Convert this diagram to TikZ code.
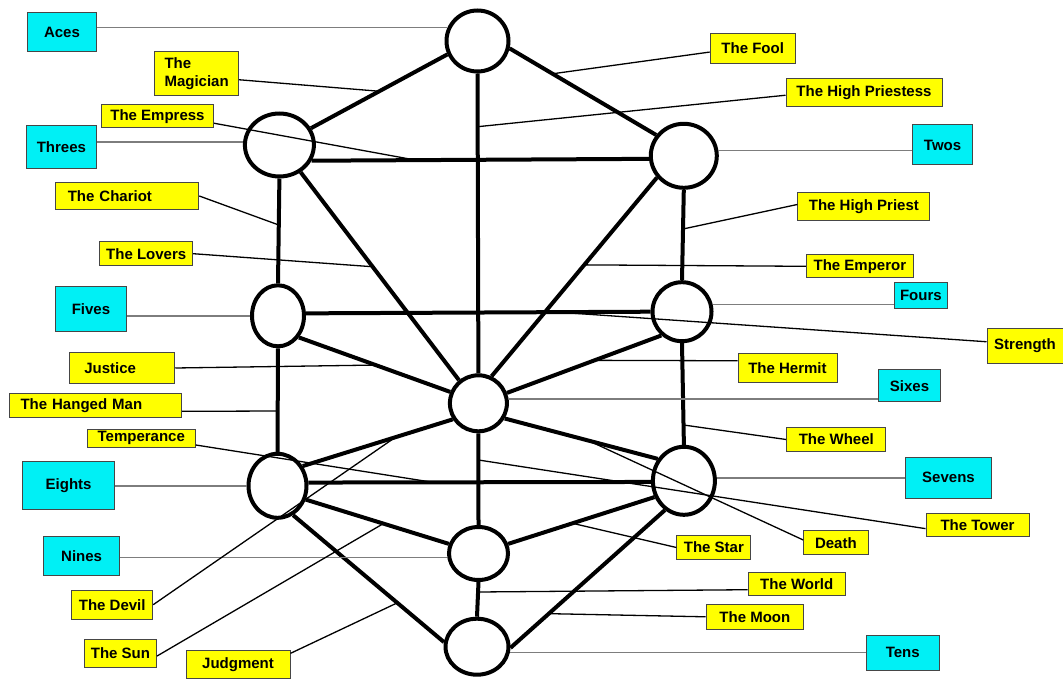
\documentclass[tikz,border=0pt]{standalone}
\usepackage{fontspec}
\setmainfont{Liberation Sans}
\usetikzlibrary{shapes.geometric,calc}
\definecolor{cardyellow}{RGB}{255,255,0}
\definecolor{suitcyan}{RGB}{0,240,245}
\definecolor{boxedge}{RGB}{70,70,70}
\definecolor{suitgray}{RGB}{125,125,125}

\begin{document}
\begin{tikzpicture}
[
    x=1pt, y=-1pt,
    sephira/.style={draw, ellipse, line width=4pt, inner sep=0pt},
    pathline/.style={line width=4pt},
    card/.style={draw=boxedge, fill=cardyellow, line width=1pt, inner sep=1pt, font=\fontsize{15}{18.5}\selectfont\bfseries},
    suit/.style={draw=boxedge, fill=suitcyan, line width=1pt, inner sep=1pt, font=\fontsize{15}{18.5}\selectfont\bfseries},
    cardline/.style={line width=1.3pt},
    suitline/.style={line width=1.5pt, suitgray},
]
\useasboundingbox (0,0) rectangle (1063,679);

% the ten circles
\node [sephira, minimum width=62, minimum height=61] (kether) at (477.5,41) {};
\node [sephira, minimum width=66, minimum height=64] (chokmah) at (683.8,155.8) {};
\node [sephira, minimum width=69, minimum height=63] (binah) at (279.4,145) {};
\node [sephira, minimum width=59, minimum height=59] (chesed) at (682,311.7) {};
\node [sephira, minimum width=52, minimum height=61] (geburah) at (278,315.8) {};
\node [sephira, minimum width=57, minimum height=56] (tiphareth) at (478.4,403.3) {};
\node [sephira, minimum width=58, minimum height=64] (hod) at (277.5,485.8) {};
\node [sephira, minimum width=62, minimum height=68] (netzach) at (683.9,480.8) {};
\node [sephira, minimum width=59, minimum height=53] (yesod) at (478.5,553.5) {};
\node [sephira, minimum width=63, minimum height=56] (malkuth) at (477,646.7) {};

% the 22 paths
\draw [pathline] (kether.-13) -- (chokmah.143);
\draw [pathline] (kether.-156) -- (binah.28);
\draw [pathline] (kether.south) -- (tiphareth.north);
\draw [pathline] (binah.-26) -- (chokmah.185);
\draw [pathline] (binah.south) -- (geburah.north);
\draw [pathline] (chokmah.south) -- (chesed.north);
\draw [pathline] (binah.-52) -- (tiphareth.130);
\draw [pathline] (chokmah.-141) -- (tiphareth.64);
\draw [pathline] (geburah.5) -- (chesed.west);
\draw [pathline] (geburah.-46) -- (tiphareth.158);
\draw [pathline] (chesed.-131) -- (tiphareth.20);
\draw [pathline] (geburah.south) -- (hod.north);
\draw [pathline] (chesed.south) -- (netzach.north);
\draw [pathline] (tiphareth.-148) -- (hod.38);
\draw [pathline] (tiphareth.-30) -- (netzach.140);
\draw [pathline] (hod.6) -- (netzach.182);
\draw [pathline] (hod.-26) -- (yesod.162);
\draw [pathline] (netzach.-151) -- (yesod.18);
\draw [pathline] (hod.-62) -- (malkuth.172);
\draw [pathline] (netzach.-123) -- (malkuth.-2);
\draw [pathline] (tiphareth.south) -- (yesod.north);
\draw [pathline] (yesod.south) -- (malkuth.north);

% suits
\node [suit, minimum width=68.6, minimum height=39] (aces) at (62,32.2) {Aces};
\node [suit, minimum width=70, minimum height=43.3] (threes) at (61.4,146.7) {Threes};
\node [suit, minimum width=60.5, minimum height=40] (twos) at (942.6,145) {Twos};
\node [suit, minimum width=70.3, minimum height=45] (fives) at (91,309.2) {Fives};
\node [suit, minimum width=52.3, minimum height=25.7] (fours) at (920.9,295.5) {Fours};
\node [suit, minimum width=62, minimum height=31.7] (sixes) at (909.5,385.8) {Sixes};
\node [suit, minimum width=91.3, minimum height=48.3] (eights) at (68.6,485.8) {Eights};
\node [suit, minimum width=85.7, minimum height=41] (sevens) at (948.5,477.8) {Sevens};
\node [suit, minimum width=76.7, minimum height=39] (nines) at (81.6,556.2) {Nines};
\node [suit, minimum width=73.3, minimum height=35] (tens) at (902.7,652.5) {Tens};

\draw [suitline] (kether.156) -- (kether.156 -| aces.east);
\draw [suitline] (binah.175) -- (binah.175 -| threes.east);
\draw [suitline] (chokmah.9) -- (chokmah.9 -| twos.west);
\draw [suitline] (geburah.west) -- (geburah.west -| fives.east);
\draw [suitline] (chesed.13) -- (chesed.13 -| fours.west);
\draw [suitline] (tiphareth.8) -- (tiphareth.8 -| sixes.west);
\draw [suitline] (hod.west) -- (hod.west -| eights.east);
\draw [suitline] (netzach.5) -- (netzach.5 -| sevens.west);
\draw [suitline] (yesod.187) -- (yesod.187 -| nines.east);
\draw [suitline] (malkuth.-10) -- (malkuth.-10 -| tens.west);

% trumps
\node [card, minimum width=85, minimum height=30] (fool) at (752.7,48.3) {The Fool};
\node [card, minimum width=83.5, minimum height=44.3, align=left] (magician) at (196.6,73.8) {The\\Magician};
\node [card, minimum width=156, minimum height=28.3] (highpriestess) at (864,92.5) {The High Priestess};
\node [card, minimum width=112.3, minimum height=22.7] (empress) at (157.5,116.3) {The Empress};
\node [card, text width=119, inner xsep=12, minimum height=26.7, align=left] (chariot) at (127.3,196) {The Chariot};
\node [card, minimum width=93, minimum height=24] (lovers) at (146.2,253.7) {The Lovers};
\node [card, minimum width=132, minimum height=28.3] (highpriest) at (863.9,206.8) {The High Priest};
\node [card, minimum width=107, minimum height=22.7] (emperor) at (859.9,266.3) {The Emperor};
\node [card, minimum width=76, minimum height=35] (strength) at (1025,345.8) {Strength};
\node [card, text width=75.5, inner xsep=15, minimum height=30.6, align=left] (justice) at (122,368) {Justice};
\node [card, minimum width=99, minimum height=29] (hermit) at (787.5,367.8) {The Hermit};
\node [card, text width=150, inner xsep=11, minimum height=24, align=left] (hangedman) at (95.5,405.3) {The Hanged Man};
\node [card, minimum width=99.3, minimum height=24.3] (wheel) at (836.3,439.5) {The Wheel};
\node [card, minimum width=108, minimum height=18] (temperance) at (141.3,438.3) {Temperance};
\node [card, minimum width=103, minimum height=23.3] (tower) at (977.5,525) {The Tower};
\node [card, minimum width=64.6, minimum height=24.3] (death) at (835.9,542.8) {Death};
\node [card, minimum width=74, minimum height=23.7] (star) at (713.9,547.5) {The Star};
\node [card, minimum width=97, minimum height=22.7] (world) at (796.7,583.7) {The World};
\node [card, minimum width=97.5, minimum height=25] (moon) at (754.9,616.8) {The Moon};
\node [card, minimum width=81, minimum height=29.3] (devil) at (112.2,604.7) {The Devil};
\node [card, minimum width=72, minimum height=28.3] (sun) at (120.5,653.5) {The Sun};
\node [card, minimum width=104, minimum height=27.7] (judgment) at (238,664.5) {Judgment};

% where each trump meets its path
\coordinate (fool-end) at ($(kether.-13)!(553.8,71.7)!(chokmah.143)$);
\coordinate (magician-end) at ($(kether.-156)!(378.6,90)!(binah.28)$);
\coordinate (highpriestess-end) at ($(kether.south)!(477.5,126.7)!(tiphareth.north)$);
\coordinate (empress-end) at ($(binah.-26)!(415.8,158)!(chokmah.185)$);
\coordinate (chariot-end) at ($(binah.south)!(278.2,225)!(geburah.north)$);
\coordinate (lovers-end) at ($(binah.-52)!(371.9,267.3)!(tiphareth.130)$);
\coordinate (highpriest-end) at ($(chokmah.south)!(683,229)!(chesed.north)$);
\coordinate (emperor-end) at ($(chokmah.-141)!(584.4,265)!(tiphareth.64)$);
\coordinate (strength-end) at ($(geburah.5)!(557.5,314)!(chesed.west)$);
\coordinate (justice-end) at ($(geburah.-46)!(375.3,366)!(tiphareth.158)$);
\coordinate (hermit-end) at ($(chesed.-131)!(594.6,360.7)!(tiphareth.20)$);
\coordinate (hangedman-end) at ($(geburah.south)!(278,411)!(hod.north)$);
\coordinate (wheel-end) at ($(chesed.south)!(683,425)!(netzach.north)$);
\coordinate (temperance-end) at ($(hod.6)!(433,481)!(netzach.182)$);
\coordinate (tower-end) at ($(tiphareth.south)!(478,460)!(yesod.north)$);
\coordinate (death-end) at ($(tiphareth.-30)!(587,445)!(netzach.140)$);
\coordinate (devil-end) at ($(tiphareth.-148)!(397,442)!(hod.38)$);
\coordinate (sun-end) at ($(hod.-26)!(382,528)!(yesod.162)$);
\coordinate (star-end) at ($(netzach.-151)!(573,525)!(yesod.18)$);
\coordinate (world-end) at ($(yesod.south)!(478,592)!(malkuth.north)$);
\coordinate (moon-end) at ($(netzach.-123)!(550,615)!(malkuth.-2)$);
\coordinate (judgment-end) at ($(hod.-62)!(395.5,605)!(malkuth.172)$);

\draw [cardline] (fool.185) -- (fool-end);
\draw [cardline] (magician.-8) -- (magician-end);
\draw [cardline] (highpriestess.182) -- (highpriestess-end);
\draw [cardline] (empress.-7) -- (empress-end);
\draw [cardline] (chariot.east) -- (chariot-end);
\draw [cardline] (lovers.east) -- (lovers-end);
\draw [cardline] (highpriest.178) -- (highpriest-end);
\draw [cardline] (emperor.west) -- (emperor-end);
\draw [cardline] (strength.174) -- (strength-end);
\draw [cardline] (justice.east) -- (justice-end);
\draw [cardline] (hermit.172) -- (hermit-end);
\draw [cardline] (hangedman.-4) -- (hangedman-end);
\draw [cardline] (wheel.west) -- (wheel-end);
\draw [cardline] (temperance.-7) -- (temperance-end);
\draw [cardline] (tower.184) -- (tower-end);
\draw [cardline] (death.175) -- (death-end);
\draw [cardline] (star.west) -- (star-end);
\draw [cardline] (world.187) -- (world-end);
\draw [cardline] (moon.west) -- (moon-end);
\draw [cardline] (devil.east) -- (devil-end);
\draw [cardline] (sun.-4) -- (sun-end);
\draw [cardline] (judgment.12) -- (judgment-end);
\end{tikzpicture}
\end{document}
